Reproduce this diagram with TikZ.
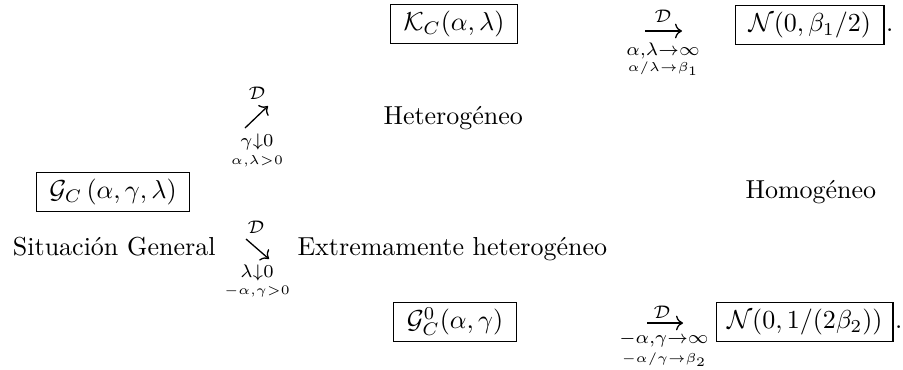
\documentclass[tikz,border=0pt]{standalone}
\usepackage{amsmath,amssymb}
\usetikzlibrary{arrows.meta}
\begin{document}
\begin{tikzpicture}[x=0.3846pt,y=-0.3846pt,
  box/.style={draw, line width=0.5pt, inner xsep=5pt, inner ysep=2.5pt, text height=7.5pt, text depth=2.5pt},
  lbl/.style={inner sep=0pt},
  txt/.style={inner sep=0pt},
  arr/.style={-{Computer Modern Rightarrow}, line width=0.5pt}]
\useasboundingbox (0,0) rectangle (903,369);

% top row
\node[box] (KC) at (454,24) {$\mathcal{K}_C(\alpha,\lambda)$};
\node[box, anchor=west] (N1) at (735,25) {$\mathcal{N}(0,\beta_1/2)$};
\node[txt, anchor=base west] (p1) at ([xshift=0.4pt]N1.base east) {.};
\coordinate (t1s) at (645,31);
\coordinate (t1e) at (682,31);
\draw[arr] (t1s) -- (t1e);
\node[lbl] (t1d) at (663,16) {$\scriptstyle\mathcal{D}$};
\node[lbl] (t1a) at (663,51) {$\scriptstyle\alpha,\lambda\to\infty$};
\node[lbl] (t1b) at (663,69) {$\scriptscriptstyle\alpha/\lambda\to\beta_1$};

% middle
\node[txt, anchor=base west] (het) at (383,124) {Heterog\'eneo};
\coordinate (d1s) at (245,128);
\coordinate (d1e) at (268,106);
\draw[arr] (d1s) -- (d1e);
\node[lbl] (d1d) at (257,93) {$\scriptstyle\mathcal{D}$};
\node[lbl] (d1a) at (257,142) {$\scriptstyle\gamma\downarrow 0$};
\node[lbl] (d1b) at (257,161) {$\scriptscriptstyle\alpha,\lambda>0$};

\node[box] (GC) at (113,192) {$\mathcal{G}_C\,(\alpha,\gamma,\lambda)$};
\node[txt, anchor=base west] (hom) at (745,198) {Homog\'eneo};
\node[txt, anchor=base east] (sit) at (216,255) {Situaci\'on General};

\coordinate (d2s) at (246,239);
\coordinate (d2e) at (269,259);
\draw[arr] (d2s) -- (d2e);
\node[lbl] (d2d) at (256,227) {$\scriptstyle\mathcal{D}$};
\node[lbl] (d2a) at (257,273) {$\scriptstyle\lambda\downarrow 0$};
\node[lbl] (d2b) at (257,291) {$\scriptscriptstyle-\alpha,\gamma>0$};
\node[txt, anchor=base west] (ext) at (297,255) {Extremamente heterog\'eneo};

% bottom row
\node[box] (G0) at (455,322) {$\mathcal{G}^0_C(\alpha,\gamma)$};
\node[box, anchor=west, inner xsep=4pt] (N2) at (716,322) {$\mathcal{N}(0,1/(2\beta_2))$};
\node[txt, anchor=base west] (p2) at ([xshift=0.4pt]N2.base east) {.};
\coordinate (t2s) at (647,323);
\coordinate (t2e) at (683,323);
\draw[arr] (t2s) -- (t2e);
\node[lbl] (t2d) at (662,312) {$\scriptstyle\mathcal{D}$};
\node[lbl] (t2a) at (664,340) {$\scriptstyle-\alpha,\gamma\to\infty$};
\node[lbl] (t2b) at (664,360) {$\scriptscriptstyle-\alpha/\gamma\to\beta_2$};
\end{tikzpicture}
\end{document}
